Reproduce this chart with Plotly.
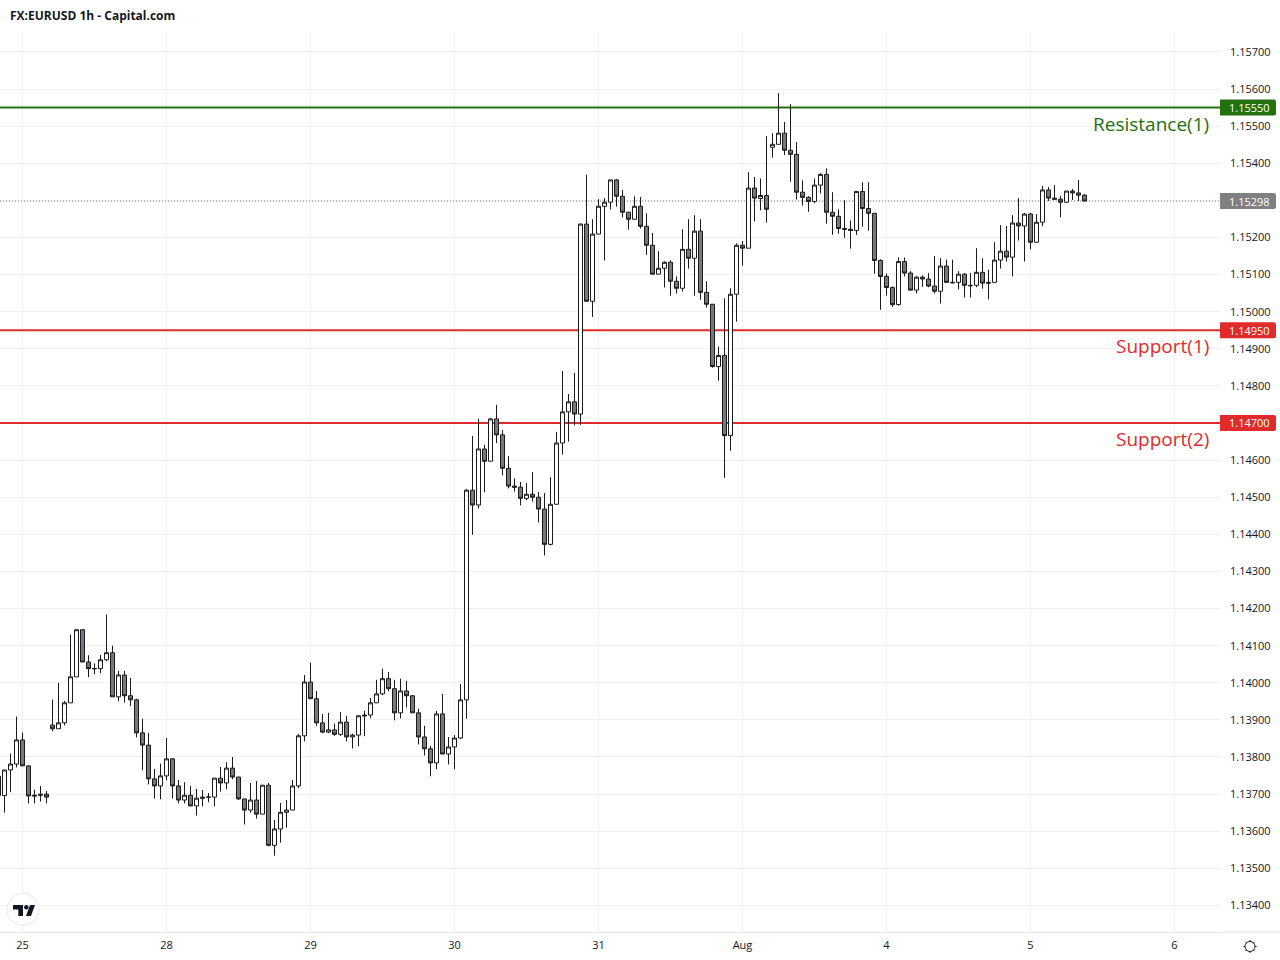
import plotly.graph_objects as go

W, H = 1280, 960
PX_L, PX_R, PX_T, PX_B = 0, 1220, 32, 932

open_p = [
 1.13696,1.13696,1.13765,1.13781,1.13846,1.13776,1.13697,1.13700,1.13700,1.13886,
 1.13876,1.13892,1.13946,1.14016,1.14143,1.14056,1.14038,1.14038,1.14062,1.14081,
 1.13962,1.14021,1.13965,1.13954,1.13865,1.13832,1.13741,1.13722,1.13749,1.13795,
 1.13722,1.13684,1.13697,1.13668,1.13692,1.13692,1.13692,1.13743,1.13730,1.13770,
 1.13746,1.13687,1.13657,1.13684,1.13646,1.13724,1.13562,1.13606,1.13651,1.13657,
 1.13722,1.13857,1.14002,1.13957,1.13892,1.13867,1.13873,1.13861,1.13894,1.13854,
 1.13859,1.13913,1.13913,1.13946,1.13970,1.14011,1.13984,1.13919,1.13978,1.13965,
 1.13919,1.13854,1.13822,1.13784,1.13916,1.13808,1.13827,1.13851,1.13954,1.14519,
 1.14479,1.14630,1.14597,1.14711,1.14668,1.14578,1.14530,1.14527,1.14497,1.14508,
 1.14500,1.14468,1.14373,1.14481,1.14646,1.14730,1.14757,1.14724,1.15236,1.15028,
 1.15209,1.15284,1.15295,1.15355,1.15311,1.15268,1.15249,1.15284,1.15230,1.15179,
 1.15101,1.15117,1.15133,1.15082,1.15063,1.15168,1.15144,1.15217,1.15052,1.15020,
 1.14852,1.14882,1.14666,1.15047,1.15179,1.15171,1.15333,1.15305,1.15313,1.15443,
 1.15451,1.15481,1.15435,1.15424,1.15322,1.15308,1.15297,1.15341,1.15370,1.15268,
 1.15257,1.15224,1.15222,1.15219,1.15324,1.15278,1.15265,1.15138,1.15095,1.15065,
 1.15019,1.15135,1.15104,1.15058,1.15093,1.15088,1.15069,1.15055,1.15123,1.15079,
 1.15079,1.15101,1.15071,1.15071,1.15106,1.15079,1.15079,1.15139,1.15163,1.15147,
 1.15239,1.15231,1.15263,1.15187,1.15241,1.15328,1.15306,1.15303,1.15295,1.15325,
 1.15320,1.15314]
high_p = [
 1.13748,1.13765,1.13809,1.13909,1.13866,1.13778,1.13712,1.13722,1.13708,1.13955,
 1.14000,1.13951,1.14130,1.14143,1.14143,1.14074,1.14052,1.14075,1.14184,1.14100,
 1.14032,1.14032,1.14013,1.13957,1.13903,1.13865,1.13768,1.13782,1.13851,1.13797,
 1.13738,1.13732,1.13722,1.13714,1.13711,1.13703,1.13743,1.13773,1.13786,1.13800,
 1.13746,1.13687,1.13730,1.13735,1.13724,1.13730,1.13630,1.13676,1.13684,1.13738,
 1.13862,1.14021,1.14054,1.13978,1.13916,1.13919,1.13890,1.13921,1.13911,1.13863,
 1.13913,1.13925,1.13959,1.14008,1.14038,1.14029,1.14008,1.14011,1.14005,1.13967,
 1.13930,1.13884,1.13830,1.13924,1.13970,1.13854,1.13859,1.13997,1.14522,1.14665,
 1.14711,1.14641,1.14713,1.14749,1.14681,1.14611,1.14551,1.14541,1.14538,1.14568,
 1.14514,1.14511,1.14554,1.14676,1.14840,1.14778,1.14835,1.15238,1.15369,1.15249,
 1.15303,1.15306,1.15355,1.15357,1.15328,1.15268,1.15311,1.15309,1.15265,1.15212,
 1.15163,1.15136,1.15139,1.15095,1.15222,1.15249,1.15260,1.15249,1.15082,1.15020,
 1.14906,1.15036,1.15063,1.15184,1.15190,1.15376,1.15363,1.15359,1.15473,1.15481,
 1.15589,1.15511,1.15559,1.15457,1.15354,1.15311,1.15359,1.15373,1.15386,1.15322,
 1.15276,1.15300,1.15246,1.15324,1.15349,1.15349,1.15265,1.15141,1.15103,1.15068,
 1.15146,1.15146,1.15109,1.15096,1.15098,1.15104,1.15150,1.15144,1.15140,1.15140,
 1.15109,1.15104,1.15104,1.15171,1.15144,1.15113,1.15187,1.15233,1.15231,1.15260,
 1.15306,1.15266,1.15266,1.15263,1.15339,1.15336,1.15341,1.15312,1.15325,1.15331,
 1.15355,1.15317]
low_p = [
 1.13650,1.13650,1.13705,1.13772,1.13776,1.13675,1.13675,1.13680,1.13675,1.13869,
 1.13876,1.13885,1.13946,1.14016,1.14056,1.14015,1.14023,1.14026,1.14058,1.13962,
 1.13950,1.13947,1.13937,1.13853,1.13764,1.13726,1.13688,1.13686,1.13737,1.13688,
 1.13675,1.13675,1.13668,1.13642,1.13667,1.13678,1.13667,1.13707,1.13713,1.13740,
 1.13684,1.13618,1.13650,1.13634,1.13646,1.13559,1.13534,1.13569,1.13610,1.13657,
 1.13716,1.13842,1.13957,1.13884,1.13864,1.13864,1.13857,1.13857,1.13842,1.13823,
 1.13829,1.13856,1.13904,1.13946,1.13967,1.13977,1.13899,1.13904,1.13934,1.13919,
 1.13834,1.13804,1.13748,1.13767,1.13808,1.13780,1.13767,1.13848,1.13903,1.14399,
 1.14470,1.14513,1.14597,1.14646,1.14559,1.14524,1.14515,1.14478,1.14492,1.14488,
 1.14432,1.14343,1.14370,1.14481,1.14615,1.14650,1.14694,1.14695,1.15028,1.14986,
 1.15209,1.15138,1.15275,1.15283,1.15254,1.15221,1.15249,1.15224,1.15153,1.15101,
 1.15101,1.15065,1.15043,1.15049,1.15054,1.15116,1.15043,1.15032,1.15011,1.14849,
 1.14814,1.14552,1.14625,1.14973,1.15124,1.15171,1.15243,1.15273,1.15240,1.15415,
 1.15451,1.15422,1.15350,1.15302,1.15286,1.15269,1.15292,1.15318,1.15237,1.15207,
 1.15210,1.15199,1.15170,1.15207,1.15229,1.15218,1.15102,1.15005,1.15043,1.15013,
 1.15016,1.15095,1.15058,1.15049,1.15067,1.15066,1.15049,1.15022,1.15079,1.15076,
 1.15060,1.15038,1.15038,1.15066,1.15062,1.15033,1.15079,1.15116,1.15135,1.15095,
 1.15192,1.15135,1.15168,1.15187,1.15230,1.15298,1.15303,1.15254,1.15293,1.15301,
 1.15298,1.15298]
close_p = [
 1.13748,1.13765,1.13781,1.13846,1.13776,1.13695,1.13695,1.13697,1.13692,1.13876,
 1.13892,1.13946,1.14016,1.14143,1.14056,1.14038,1.14038,1.14062,1.14081,1.13962,
 1.14021,1.13965,1.13954,1.13865,1.13832,1.13741,1.13722,1.13749,1.13795,1.13722,
 1.13684,1.13697,1.13668,1.13689,1.13689,1.13692,1.13743,1.13730,1.13770,1.13746,
 1.13687,1.13657,1.13684,1.13646,1.13724,1.13562,1.13606,1.13651,1.13657,1.13722,
 1.13857,1.14002,1.13957,1.13892,1.13867,1.13873,1.13861,1.13894,1.13854,1.13859,
 1.13911,1.13911,1.13946,1.13970,1.14011,1.13984,1.13919,1.13978,1.13965,1.13919,
 1.13854,1.13822,1.13784,1.13916,1.13808,1.13827,1.13851,1.13954,1.14519,1.14479,
 1.14630,1.14597,1.14711,1.14668,1.14578,1.14530,1.14527,1.14497,1.14508,1.14500,
 1.14468,1.14373,1.14481,1.14646,1.14730,1.14757,1.14724,1.15236,1.15028,1.15209,
 1.15284,1.15295,1.15355,1.15311,1.15268,1.15249,1.15284,1.15230,1.15179,1.15101,
 1.15117,1.15133,1.15082,1.15063,1.15168,1.15144,1.15217,1.15052,1.15020,1.14852,
 1.14882,1.14666,1.15047,1.15179,1.15171,1.15333,1.15306,1.15313,1.15276,1.15451,
 1.15481,1.15435,1.15424,1.15322,1.15308,1.15297,1.15341,1.15370,1.15268,1.15257,
 1.15224,1.15222,1.15219,1.15324,1.15278,1.15265,1.15138,1.15095,1.15065,1.15019,
 1.15135,1.15104,1.15058,1.15093,1.15088,1.15069,1.15055,1.15123,1.15079,1.15078,
 1.15101,1.15071,1.15070,1.15106,1.15077,1.15077,1.15139,1.15163,1.15147,1.15239,
 1.15231,1.15263,1.15187,1.15241,1.15328,1.15306,1.15303,1.15295,1.15325,1.15320,
 1.15314,1.15298]
bar_index = list(range(len(close_p)))

day_bars = [4, 28, 52, 76, 100, 124, 148, 172, 196]
day_labels = ["25", "28", "29", "30", "31", "Aug", "4", "5", "6"]
price_ticks = [1.134, 1.135, 1.136, 1.137, 1.138, 1.139, 1.140, 1.141, 1.142, 1.143, 1.144, 1.145,
               1.146, 1.147, 1.148, 1.149, 1.150, 1.151, 1.152, 1.153, 1.154, 1.155, 1.156, 1.157]
# prices whose scale label sits behind a level badge in the reference
price_labels = ["1.13400", "1.13500", "1.13600", "1.13700", "1.13800", "1.13900", "1.14000", "1.14100",
                "1.14200", "1.14300", "1.14400", "1.14500", "1.14600", "", "1.14800", "1.14900",
                "1.15000", "1.15100", "1.15200", "", "1.15400", "1.15500", "1.15600", "1.15700"]

level_prices = [1.1555, 1.1495, 1.147]
level_names = ["Resistance(1)", "Support(1)", "Support(2)"]
level_colors = ["#23700f", "#e02b2b", "#e02b2b"]
level_texts = ["1.15550", "1.14950", "1.14700"]
last_price = 1.15298
last_text = "1.15298"

FONT = "Open Sans"
TEXT = "#131722"
GRID = "#eff0f3"
AXIS = "#e0e3eb"
X_RANGE = [(0 + 1.5) / 6, (1220 + 1.5) / 6]


def px(x):
    return x / W


def py(y):
    return 1 - y / H


def path(points, close=True):
    s = "M" + " L".join(f"{px(a):.5f},{py(b):.5f}" for a, b in points)
    return s + (" Z" if close else "")


def circle(cx, cy, r):
    return dict(type="circle", xref="paper", yref="paper",
                x0=px(cx - r), x1=px(cx + r), y0=py(cy + r), y1=py(cy - r))


def badge(price, color):
    a, b, c = px(1220), px(1274), px(1276)
    d = f"M{a:.5f},-8 L{b:.5f},-8 Q{c:.5f},-8 {c:.5f},-6 L{c:.5f},6 Q{c:.5f},8 {b:.5f},8 L{a:.5f},8 Z"
    return dict(type="path", xref="paper", yref="y", ysizemode="pixel", yanchor=price, path=d,
                fillcolor=color, line=dict(width=0), layer="above")


fig = go.Figure(go.Candlestick(
    x=bar_index, open=open_p, high=high_p, low=low_p, close=close_p,
    increasing=dict(line=dict(color="#1b1b1f", width=1), fillcolor="#ffffff"),
    decreasing=dict(line=dict(color="#1b1b1f", width=1), fillcolor="#787878"),
    whiskerwidth=0, showlegend=False, hoverinfo="skip",
))

shapes, annos = [], []
for p, c, name, txt in zip(level_prices, level_colors, level_names, level_texts):
    shapes.append(dict(type="line", xref="x", yref="y", x0=X_RANGE[0], x1=X_RANGE[1], y0=p, y1=p,
                       line=dict(color=c, width=2), layer="between"))
    shapes.append(badge(p, c))
    annos.append(dict(xref="paper", yref="y", x=px(1272), y=p, text=txt, showarrow=False,
                      xanchor="right", yanchor="middle", font=dict(family=FONT, size=11, color="#ffffff")))
    annos.append(dict(xref="paper", yref="y", x=px(1211), y=p, yshift=-16, text=name, showarrow=False,
                      xanchor="right", yanchor="middle", font=dict(family=FONT, size=19, color=c)))

shapes.append(dict(type="line", xref="x", yref="y", x0=X_RANGE[0], x1=X_RANGE[1], y0=last_price, y1=last_price,
                   line=dict(color="#808080", width=1, dash="1px,2px"), layer="between"))
shapes.append(badge(last_price, "#808080"))
annos.append(dict(xref="paper", yref="y", x=px(1272), y=last_price, text=last_text, showarrow=False,
                  xanchor="right", yanchor="middle", font=dict(family=FONT, size=11, color="#ffffff")))

annos.append(dict(xref="paper", yref="paper", x=px(10), y=py(15), text="<b>FX:EURUSD 1h - Capital.com</b>",
                  showarrow=False, xanchor="left", yanchor="middle", xshift=-2,
                  font=dict(family=FONT, size=12, color=TEXT)))

# axis line under the price scale
shapes.append(dict(type="line", xref="paper", yref="paper", x0=px(1221), x1=1, y0=py(PX_B), y1=py(PX_B),
                   line=dict(color=AXIS, width=1)))

# logo badge
shapes.append({**circle(23, 909.5, 16), "fillcolor": "#ffffff", "line": dict(color="#e8e8ec", width=1), "layer": "above"})
logo_parts = [
    [(13, 905), (23, 905), (23, 916), (18.3, 916), (18.3, 909.5), (13, 909.5)],
    [(26, 916), (30, 905), (35, 905), (31, 916)],
]
for part in logo_parts:
    shapes.append(dict(type="path", xref="paper", yref="paper", path=path(part),
                       fillcolor=TEXT, line=dict(width=0), layer="above"))
shapes.append({**circle(26.3, 907.3, 2.2), "fillcolor": TEXT, "line": dict(width=0), "layer": "above"})

# settings glyph
shapes.append({**circle(1250, 946.5, 5), "fillcolor": "rgba(0,0,0,0)", "line": dict(color=TEXT, width=1)})
for a, b in [((1250, 940), (1250, 941.5)), ((1250, 951.5), (1250, 953)), ((1243.5, 946.5), (1245, 946.5)),
             ((1255, 946.5), (1256.5, 946.5)), ((1245.4, 941.9), (1246.5, 943)), ((1253.5, 950), (1254.6, 951.1)),
             ((1254.6, 941.9), (1253.5, 943)), ((1246.5, 950), (1245.4, 951.1))]:
    shapes.append(dict(type="path", xref="paper", yref="paper", path=path([a, b], close=False),
                       line=dict(color=TEXT, width=1)))

fig.update_layout(
    width=W, height=H, margin=dict(l=0, r=0, t=0, b=0, pad=0), autosize=False,
    paper_bgcolor="#ffffff", plot_bgcolor="#ffffff", showlegend=False,
    font=dict(family=FONT, size=11, color=TEXT),
    shapes=shapes, annotations=annos, boxgap=1 / 3, boxgroupgap=0,
    xaxis=dict(domain=[px(PX_L), px(PX_R)], range=X_RANGE,
               rangeslider=dict(visible=False), tickmode="array", tickvals=day_bars, ticktext=day_labels,
               showgrid=True, gridcolor=GRID, gridwidth=1, zeroline=False, showline=True, linecolor=AXIS, linewidth=1,
               ticks="", tickfont=dict(family=FONT, size=11, color=TEXT), ticklabelstandoff=3),
    yaxis=dict(domain=[py(PX_B), py(PX_T)], range=[1.133284, 1.157536], side="right", anchor="x",
               tickmode="array", tickvals=price_ticks, ticktext=price_labels,
               showgrid=True, gridcolor=GRID, gridwidth=1, zeroline=False, showline=False,
               ticks="", tickfont=dict(family=FONT, size=11, color=TEXT), ticklabelstandoff=9),
)

fig.write_html("out.html", config={"displayModeBar": False},
               post_script="document.body.style.margin='0';document.body.style.overflow='hidden';")
